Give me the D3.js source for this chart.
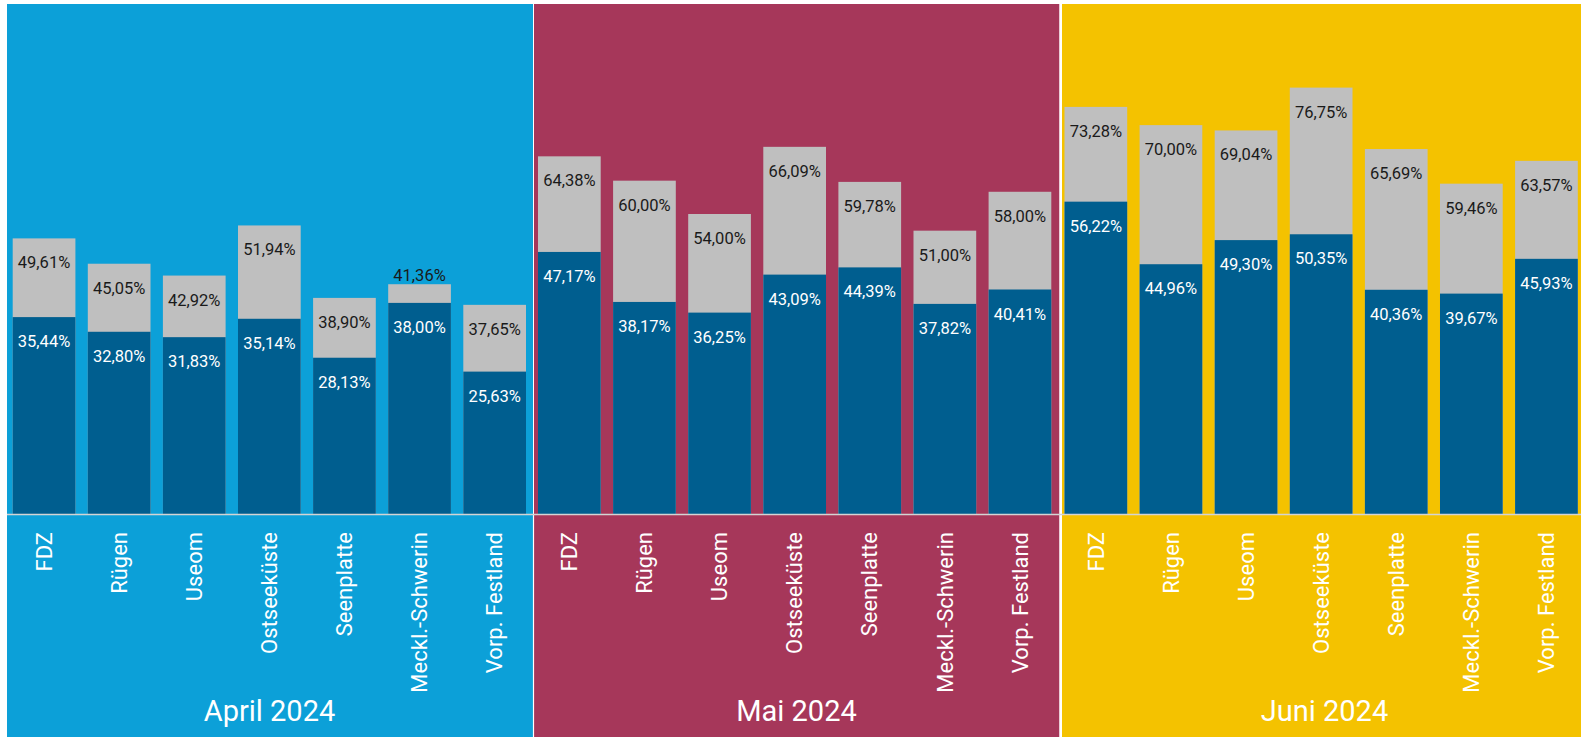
<!DOCTYPE html>
<html>
<head>
<meta charset="utf-8">
<script src="https://cdn.jsdelivr.net/npm/d3@7"></script>
<style>
  body { margin: 0; background: #fff; }
  svg text { font-family: Roboto, "Liberation Sans", sans-serif; }
</style>
</head>
<body>
<div id="chart"></div>
<script>
// data
var regions = ["FDZ", "Rügen", "Useom", "Ostseeküste", "Seenplatte", "Meckl.-Schwerin", "Vorp. Festland"];
var months = ["April 2024", "Mai 2024", "Juni 2024"];
var monthColors = ["#0ca0d8", "#a6375a", "#f4c200"];

// grey bar (total) per month
var aprilTotal = [49.61, 45.05, 42.92, 51.94, 38.90, 41.36, 37.65];
var maiTotal = [64.38, 60.00, 54.00, 66.09, 59.78, 51.00, 58.00];
var juniTotal = [73.28, 70.00, 69.04, 76.75, 65.69, 59.46, 63.57];

// blue bar per month
var aprilBlue = [35.44, 32.80, 31.83, 35.14, 28.13, 38.00, 25.63];
var maiBlue = [47.17, 38.17, 36.25, 43.09, 44.39, 37.82, 40.41];
var juniBlue = [56.22, 44.96, 49.30, 50.35, 40.36, 39.67, 45.93];

var totals = [aprilTotal, maiTotal, juniTotal];
var blues = [aprilBlue, maiBlue, juniBlue];

var width = 1581, height = 737;
var panelLeft = [7, 534, 1062],
    panelRight = [533, 1059.5, 1581],
    barStart = [12.7, 538, 1064.5],
    barSpan = 513.3,
    panelTop = 4,
    baseline = 514;

var de = d3.formatLocale({decimal: ",", thousands: ".", grouping: [3], currency: ["", " €"]});
var fmt = de.format(".2f");

var svg = d3.select("#chart").append("svg")
  .attr("width", width)
  .attr("height", height);

var y = d3.scaleLinear().domain([0, 91.8]).range([baseline, panelTop]);

months.forEach(function (m, i) {
  var x0 = panelLeft[i];
  var x = d3.scaleBand().domain(regions)
    .range([barStart[i], barStart[i] + barSpan])
    .paddingInner(0.165)
    .paddingOuter(0);

  var g = svg.append("g");

  // panel background
  g.append("rect")
    .attr("x", x0).attr("y", panelTop)
    .attr("width", panelRight[i] - x0).attr("height", height - panelTop)
    .attr("fill", monthColors[i]);

  var rows = regions.map(function (r, j) {
    return {region: r, total: totals[i][j], blue: blues[i][j]};
  });

  // grey bars
  g.selectAll(".grey").data(rows).enter().append("rect")
    .attr("class", "grey")
    .attr("x", function (d) { return x(d.region); })
    .attr("width", x.bandwidth())
    .attr("y", function (d) { return y(d.total); })
    .attr("height", function (d) { return baseline - y(d.total); })
    .attr("fill", "#bfbfbf");

  // blue bars
  g.selectAll(".blue").data(rows).enter().append("rect")
    .attr("class", "blue")
    .attr("x", function (d) { return x(d.region); })
    .attr("width", x.bandwidth())
    .attr("y", function (d) { return y(d.blue); })
    .attr("height", function (d) { return baseline - y(d.blue); })
    .attr("fill", "#005e8f");

  // grey labels, above the bar when the grey part is too thin
  g.selectAll(".glab").data(rows).enter().append("text")
    .attr("x", function (d) { return x(d.region) + x.bandwidth() / 2; })
    .attr("y", function (d) {
      return (d.total - d.blue) < 6 ? y(d.total) - 3 : y(d.total) + 30;
    })
    .attr("text-anchor", "middle")
    .style("font-size", "16.5px")
    .attr("fill", "#1a1a1a")
    .text(function (d) { return fmt(d.total) + "%"; });

  g.selectAll(".blab").data(rows).enter().append("text")
    .attr("x", function (d) { return x(d.region) + x.bandwidth() / 2; })
    .attr("y", function (d) { return y(d.blue) + 30; })
    .attr("text-anchor", "middle")
    .style("font-size", "16.5px")
    .attr("fill", "#fff")
    .text(function (d) { return fmt(d.blue) + "%"; });

  // category labels
  g.selectAll(".cat").data(regions).enter().append("text")
    .attr("transform", function (d) {
      return "translate(" + (x(d) + x.bandwidth() / 2) + "," + 532 + ") rotate(-90)";
    })
    .attr("dy", "0.35em")
    .attr("text-anchor", "end")
    .style("font-size", "22px")
    .attr("fill", "#fff")
    .text(function (d) { return d; });

  // month title
  g.append("text")
    .attr("x", x0 + 262.5)
    .attr("y", 721)
    .attr("text-anchor", "middle")
    .style("font-size", "29px")
    .attr("fill", "#fff")
    .text(m);
});

// separators between months
[533.5, 1060.5].forEach(function (sx, k) {
  svg.append("line")
    .attr("x1", sx).attr("x2", sx)
    .attr("y1", k == 0 ? baseline : panelTop).attr("y2", height)
    .attr("stroke", "#fff")
    .attr("stroke-width", k == 0 ? 1.2 : 2);
});

// baseline
svg.append("line")
  .attr("x1", 7).attr("x2", width)
  .attr("y1", baseline + 0.5).attr("y2", baseline + 0.5)
  .attr("stroke", "#d4d4d4")
  .attr("stroke-width", 1.5);
</script>
</body>
</html>
